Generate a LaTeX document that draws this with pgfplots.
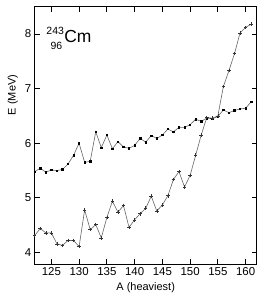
\documentclass[border=0pt]{standalone}
\usepackage{pgfplots}
\pgfplotsset{compat=1.18}
\usepackage{fontspec}
\setmainfont{Liberation Sans}
\begin{document}
\begin{tikzpicture}
\begin{axis}[
  scale only axis,
  width=222bp, height=257.3bp,
  xmin=122, xmax=162, ymin=3.79, ymax=8.5,
  xtick={125,130,...,160},
  ytick={4,5,6,7,8},
  tick align=inside,
  major tick length=5bp,
  axis line style={line width=0.9bp},
  every tick/.style={black, line width=0.8bp},
  /pgf/number format/assume math mode=true,
  tick label style={font=\fontsize{11.5}{13}\selectfont},
  label style={font=\fontsize{11}{13}\selectfont},
  xlabel={A (heaviest)},
  ylabel={E (MeV)},
  ylabel style={at={(ticklabel cs:0.657)}},
]
\coordinate (ll) at (rel axis cs:0,0);
\coordinate (ur) at (rel axis cs:1,1);
\addplot[gray!80!black, line width=0.6bp, mark=square*, mark size=0.7bp, mark options={black, solid}] coordinates {
(122,5.48) (123,5.545) (124,5.47) (125,5.51) (126,5.50) (127,5.52) (128,5.62) (129,5.78) (130,6.00) (131,5.65)
(132,5.67) (133,6.21) (134,5.92) (135,6.15) (136,5.90) (137,6.03) (138,5.93) (139,5.91) (140,5.96) (141,6.09)
(142,6.02) (143,6.14) (144,6.09) (145,6.15) (146,6.26) (147,6.21) (148,6.29) (149,6.29) (150,6.34) (151,6.44)
(152,6.40) (153,6.46) (154,6.45) (155,6.49) (156,6.61) (157,6.56) (158,6.60) (159,6.63) (160,6.64) (161,6.76)
};
\addplot[gray!80!black, line width=0.6bp, mark=+, mark size=1.8bp, mark options={black!80, solid, line width=0.5bp}] coordinates {
(122,4.31) (123,4.44) (124,4.36) (125,4.36) (126,4.16) (127,4.13) (128,4.22) (129,4.22) (130,4.11) (131,4.78)
(132,4.42) (133,4.51) (134,4.27) (135,4.64) (136,4.94) (137,4.74) (138,4.86) (139,4.46) (140,4.60) (141,4.71)
(142,4.81) (143,5.03) (144,4.76) (145,4.87) (146,5.04) (147,5.34) (148,5.48) (149,5.20) (150,5.41) (151,5.78)
(152,6.15) (153,6.47) (154,6.46) (155,6.50) (156,7.04) (157,7.33) (158,7.64) (159,8.02) (160,8.12) (161,8.18)
};
\node[anchor=base west, inner sep=0pt, font=\fontsize{17.5}{20}\selectfont] at (axis cs:127.3,7.85) {Cm};
\node[anchor=base east, inner sep=0pt, font=\fontsize{10.5}{12}\selectfont] at (axis cs:127.3,8.0) {243};
\node[anchor=base east, inner sep=0pt, font=\fontsize{10.5}{12}\selectfont] at (axis cs:127.0,7.72) {96};
\end{axis}
\pgfresetboundingbox
\path[use as bounding box] ([shift={(-34.7bp,-36bp)}]ll) rectangle ([shift={(7.3bp,6.7bp)}]ur);
\end{tikzpicture}
\end{document}
